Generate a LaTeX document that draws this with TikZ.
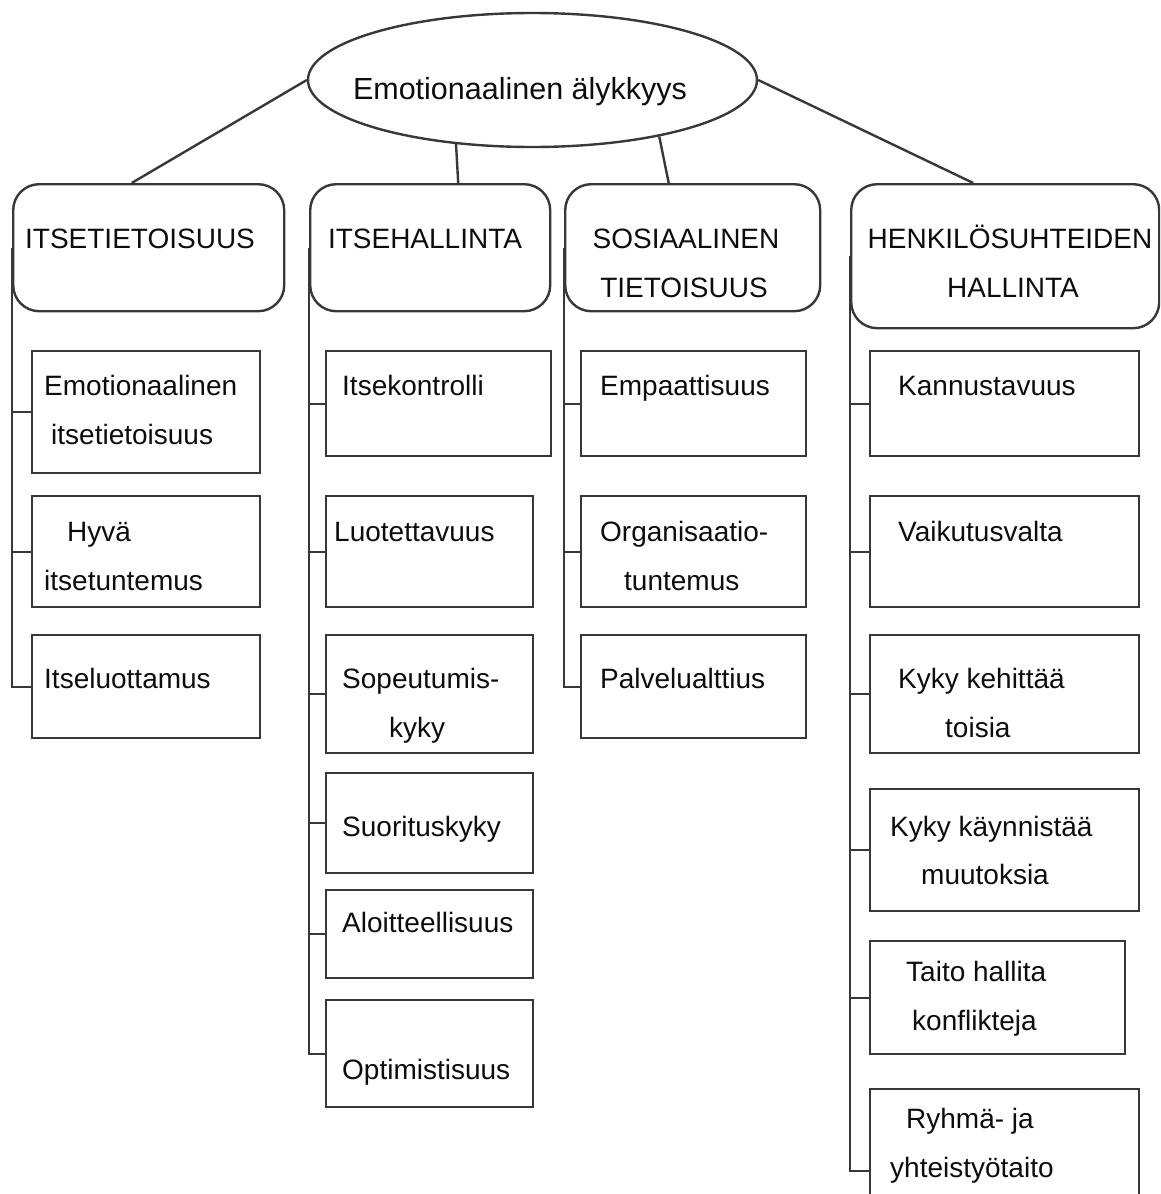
\documentclass[tikz,border=0pt]{standalone}
\usepackage{fontspec}
\setmainfont{Liberation Sans}
\usetikzlibrary{shapes.geometric,calc}
\begin{document}
\begin{tikzpicture}[x=1pt,y=-1pt,
  ln/.style={line width=2.4pt, draw=black!78},
  topbox/.style={ln, rounded corners=26pt, fill=white, anchor=north west, inner sep=0pt},
  subbox/.style={ln, fill=white, anchor=north west, inner sep=0pt},
  txt/.style={anchor=base west, inner sep=0pt, text=black!95, font=\fontsize{28}{34}\selectfont},
  ctxt/.style={txt, anchor=base},
]
\useasboundingbox (0,0) rectangle (1160,1194);
\clip (0,0) rectangle (1160,1194);

% root
\node[ln, ellipse, minimum width=449, minimum height=134, inner sep=0pt] (E) at (532.5,80) {};
\node[ctxt, font=\fontsize{30.5}{36}\selectfont] (Et) at (520,99) {Emotionaalinen älykkyys};

% top boxes
\node[topbox, minimum width=271, minimum height=127] (B1) at (12,183) {};
\node[topbox, minimum width=240, minimum height=127] (B2) at (309,183) {};
\node[topbox, minimum width=255, minimum height=127] (B3) at (564,183) {};
\node[topbox, minimum width=308, minimum height=144] (B4) at (850,183) {};

\node[ctxt] (B1t) at (140,248) {ITSETIETOISUUS};
\node[ctxt] (B2t) at (425,248) {ITSEHALLINTA};
\node[ctxt] (B3t) at (686,248) {SOSIAALINEN};
\node[ctxt] (B3u) at (684,297) {TIETOISUUS};
\node[ctxt] (B4t) at (1010,248) {HENKILÖSUHTEIDEN};
\node[ctxt] (B4u) at (1013,297) {HALLINTA};

% root connectors
\draw[ln] (E.west) -- ([xshift=-17pt]B1.north);
\draw[ln] (E.220.6) -- ([xshift=28pt]B2.north);
\draw[ln] (E.336.8) -- ([xshift=-24pt]B3.north);
\draw[ln] (E.east) -- ([xshift=-32pt]B4.north);

% column 1
\node[subbox, minimum width=228, minimum height=122] (c11) at (31,350) {};
\node[subbox, minimum width=228, minimum height=111] (c12) at (31,495) {};
\node[subbox, minimum width=228, minimum height=103] (c13) at (31,634) {};
\node[txt] (c11a) at (44,395) {Emotionaalinen};
\node[txt] (c11b) at (51,444) {itsetietoisuus};
\node[txt] (c12a) at (67,541) {Hyvä};
\node[txt] (c12b) at (44,590) {itsetuntemus};
\node[txt] (c13a) at (44,688) {Itseluottamus};

% column 2
\node[subbox, minimum width=225, minimum height=105] (c21) at (325,350) {};
\node[subbox, minimum width=207, minimum height=111] (c22) at (325,495) {};
\node[subbox, minimum width=207, minimum height=118] (c23) at (325,634) {};
\node[subbox, minimum width=207, minimum height=100] (c24) at (325,772) {};
\node[subbox, minimum width=207, minimum height=88] (c25) at (325,889) {};
\node[subbox, minimum width=207, minimum height=107] (c26) at (325,999) {};
\node[txt] (c21a) at (342,395) {Itsekontrolli};
\node[txt] (c22a) at (334,541) {Luotettavuus};
\node[txt] (c23a) at (342,688) {Sopeutumis-};
\node[txt] (c23b) at (389,737) {kyky};
\node[txt] (c24a) at (342,836) {Suorituskyky};
\node[txt] (c25a) at (342,932) {Aloitteellisuus};
\node[txt] (c26a) at (342,1079) {Optimistisuus};

% column 3
\node[subbox, minimum width=225, minimum height=105] (c31) at (580,350) {};
\node[subbox, minimum width=225, minimum height=111] (c32) at (580,495) {};
\node[subbox, minimum width=225, minimum height=103] (c33) at (580,634) {};
\node[txt] (c31a) at (600,395) {Empaattisuus};
\node[txt] (c32a) at (600,541) {Organisaatio-};
\node[txt] (c32b) at (624,590) {tuntemus};
\node[txt] (c33a) at (600,688) {Palvelualttius};

% column 4
\node[subbox, minimum width=269, minimum height=105] (c41) at (869,350) {};
\node[subbox, minimum width=269, minimum height=111] (c42) at (869,495) {};
\node[subbox, minimum width=269, minimum height=118] (c43) at (869,634) {};
\node[subbox, minimum width=269, minimum height=122] (c44) at (869,788) {};
\node[subbox, minimum width=255, minimum height=113] (c45) at (869,940) {};
\node[subbox, minimum width=269, minimum height=164] (c46) at (869,1088) {};
\node[txt] (c41a) at (898,395) {Kannustavuus};
\node[txt] (c42a) at (898,541) {Vaikutusvalta};
\node[txt] (c43a) at (898,688) {Kyky kehittää};
\node[txt] (c43b) at (945,737) {toisia};
\node[txt] (c44a) at (890,836) {Kyky käynnistää};
\node[txt] (c44b) at (921,884) {muutoksia};
\node[txt] (c45a) at (906,981) {Taito hallita};
\node[txt] (c45b) at (912,1030) {konflikteja};
\node[txt] (c46a) at (906,1128) {Ryhmä- ja};
\node[txt] (c46b) at (890,1177) {yhteistyötaito};

% trunks
\draw[ln] (B1.west) -- (B1.west |- c13.west) -- (c13.west);
\foreach \c in {c11,c12} \draw[ln] (B1.west |- \c.west) -- (\c.west);
\draw[ln] (B2.west) -- (B2.west |- c26.west) -- (c26.west);
\foreach \c in {c21,c22,c23,c24,c25} \draw[ln] (B2.west |- \c.west) -- (\c.west);
\draw[ln] (B3.west) -- (B3.west |- c33.west) -- (c33.west);
\foreach \c in {c31,c32} \draw[ln] (B3.west |- \c.west) -- (\c.west);
\draw[ln] (B4.west) -- (B4.west |- c46.west) -- (c46.west);
\foreach \c in {c41,c42,c43,c44,c45} \draw[ln] (B4.west |- \c.west) -- (\c.west);
\end{tikzpicture}
\end{document}
